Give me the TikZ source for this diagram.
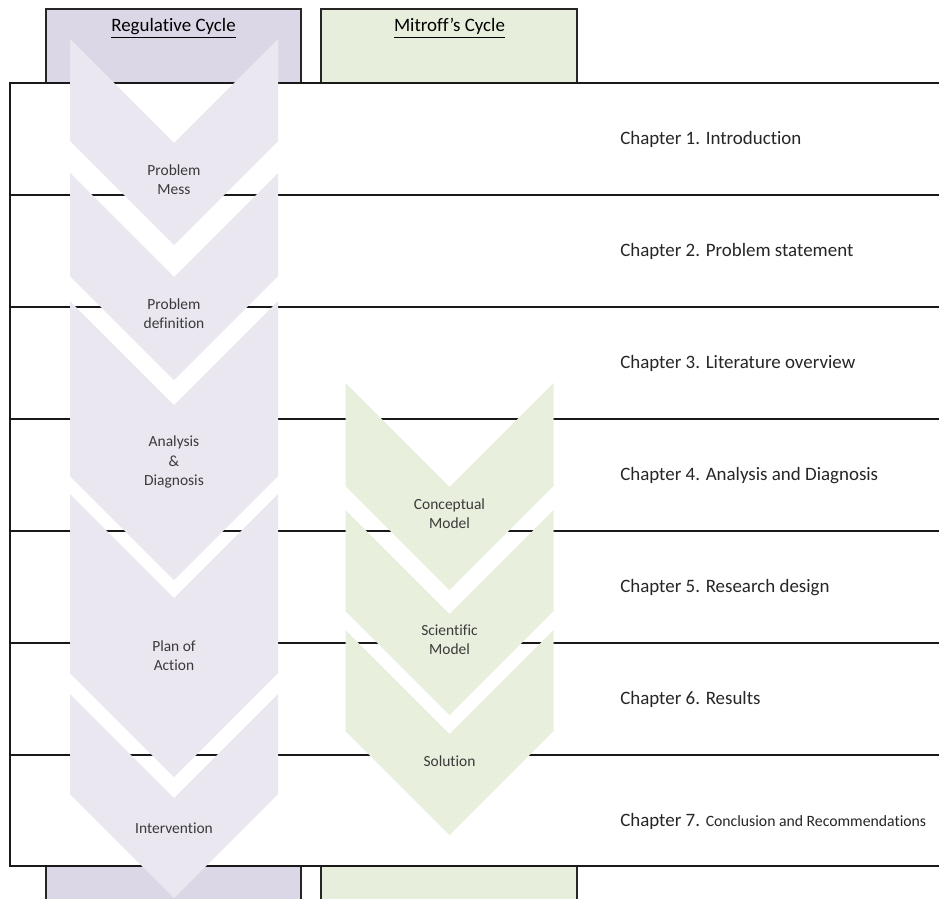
\documentclass[tikz,border=0pt]{standalone}
\usepackage{fontspec}
\setmainfont{Carlito}[Ligatures={NoCommon}]
\definecolor{regcol}{HTML}{DCD7E6}
\definecolor{regchev}{HTML}{EAE7F1}
\definecolor{mitcol}{HTML}{E7EEDC}
\definecolor{mitchev}{HTML}{E8EFDD}
\definecolor{steptxt}{HTML}{3A3A3A}
\definecolor{chaptxt}{HTML}{262626}
% chevron: centre x, top y, total height, fill colour (half width and point depth 104)
\newcommand\chevronshape[4]{%
  \fill[#4] (#1-104,#2) -- (#1,#2+104) -- (#1+104,#2) -- (#1+104,#2+#3-104)
    -- (#1,#2+#3) -- (#1-104,#2+#3-104) -- cycle;}
% smaller type used for part of one chapter title
\newcommand\smallertitle{\fontsize{11.8}{14}\selectfont}
\tikzset{
  colbox/.style={line width=0.9pt, draw=black!85},
  rulebox/.style={line width=1pt, draw=black!90},
  steptext/.style={font=\fontsize{11.6}{14.3}\selectfont, text=steptxt, align=center, inner sep=0pt},
  chaptext/.style={font=\fontsize{14.2}{17}\selectfont, text=chaptxt, anchor=base west, inner sep=0pt},
  headtext/.style={font=\fontsize{14.2}{17}\selectfont, text=black, anchor=base, inner sep=0pt}
}
\begin{document}
\begin{tikzpicture}[x=0.75pt, y=-0.75pt]
\useasboundingbox (0,0) rectangle (939,899);
\clip (0,0) rectangle (939,899);

% column backgrounds
\filldraw[colbox, fill=regcol] (46,9) rectangle (301,910);
\filldraw[colbox, fill=mitcol] (321,9) rectangle (577,910);

% chapter table
\filldraw[rulebox, fill=white] (10,83) rectangle (950,866);
\foreach \yy in {195,307,419,531,643,755}
  \draw[rulebox] (10,\yy) -- (950,\yy);

% regulative cycle chevrons
\chevronshape{174}{39}{206}{regchev}
\chevronshape{174}{173}{207}{regchev}
\chevronshape{174}{301}{279}{regchev}
\chevronshape{174}{494}{283}{regchev}
\chevronshape{174}{694}{204}{regchev}

% Mitroff's cycle chevrons
\chevronshape{449.5}{383}{207}{mitchev}
\chevronshape{449.5}{510}{205}{mitchev}
\chevronshape{449.5}{630}{205}{mitchev}

% column headers
\node[headtext] (hreg) at (173.5,32) {\underline{Regulative Cycle}};
\node[headtext] (hmit) at (449.5,32) {\underline{Mitroff’s Cycle}};

% step labels
\node[steptext] (s1) at (174,180) {Problem\\Mess};
\node[steptext] (s2) at (174,314) {Problem\\definition};
\node[steptext] (s3) at (174,462) {Analysis\\\&\\Diagnosis};
\node[steptext] (s4) at (174,656) {Plan of\\Action};
\node[steptext] (s5) at (174,828) {Intervention};
\node[steptext] (m1) at (449.5,514) {Conceptual\\Model};
\node[steptext] (m2) at (449.5,640) {Scientific\\Model};
\node[steptext] (m3) at (449.5,761) {Solution};

% chapter labels
\node[chaptext] (c1) at (620,144) {Chapter 1. Introduction};
\node[chaptext] (c2) at (620,256) {Chapter 2. Problem statement};
\node[chaptext] (c3) at (620,368) {Chapter 3. Literature overview};
\node[chaptext] (c4) at (620,480) {Chapter 4. Analysis and Diagnosis};
\node[chaptext] (c5) at (620,592) {Chapter 5. Research design};
\node[chaptext] (c6) at (620,704) {Chapter 6. Results};
\node[chaptext] (c7) at (620,826) {Chapter 7. {\smallertitle Conclusion and Recommendations}};
\end{tikzpicture}
\end{document}
